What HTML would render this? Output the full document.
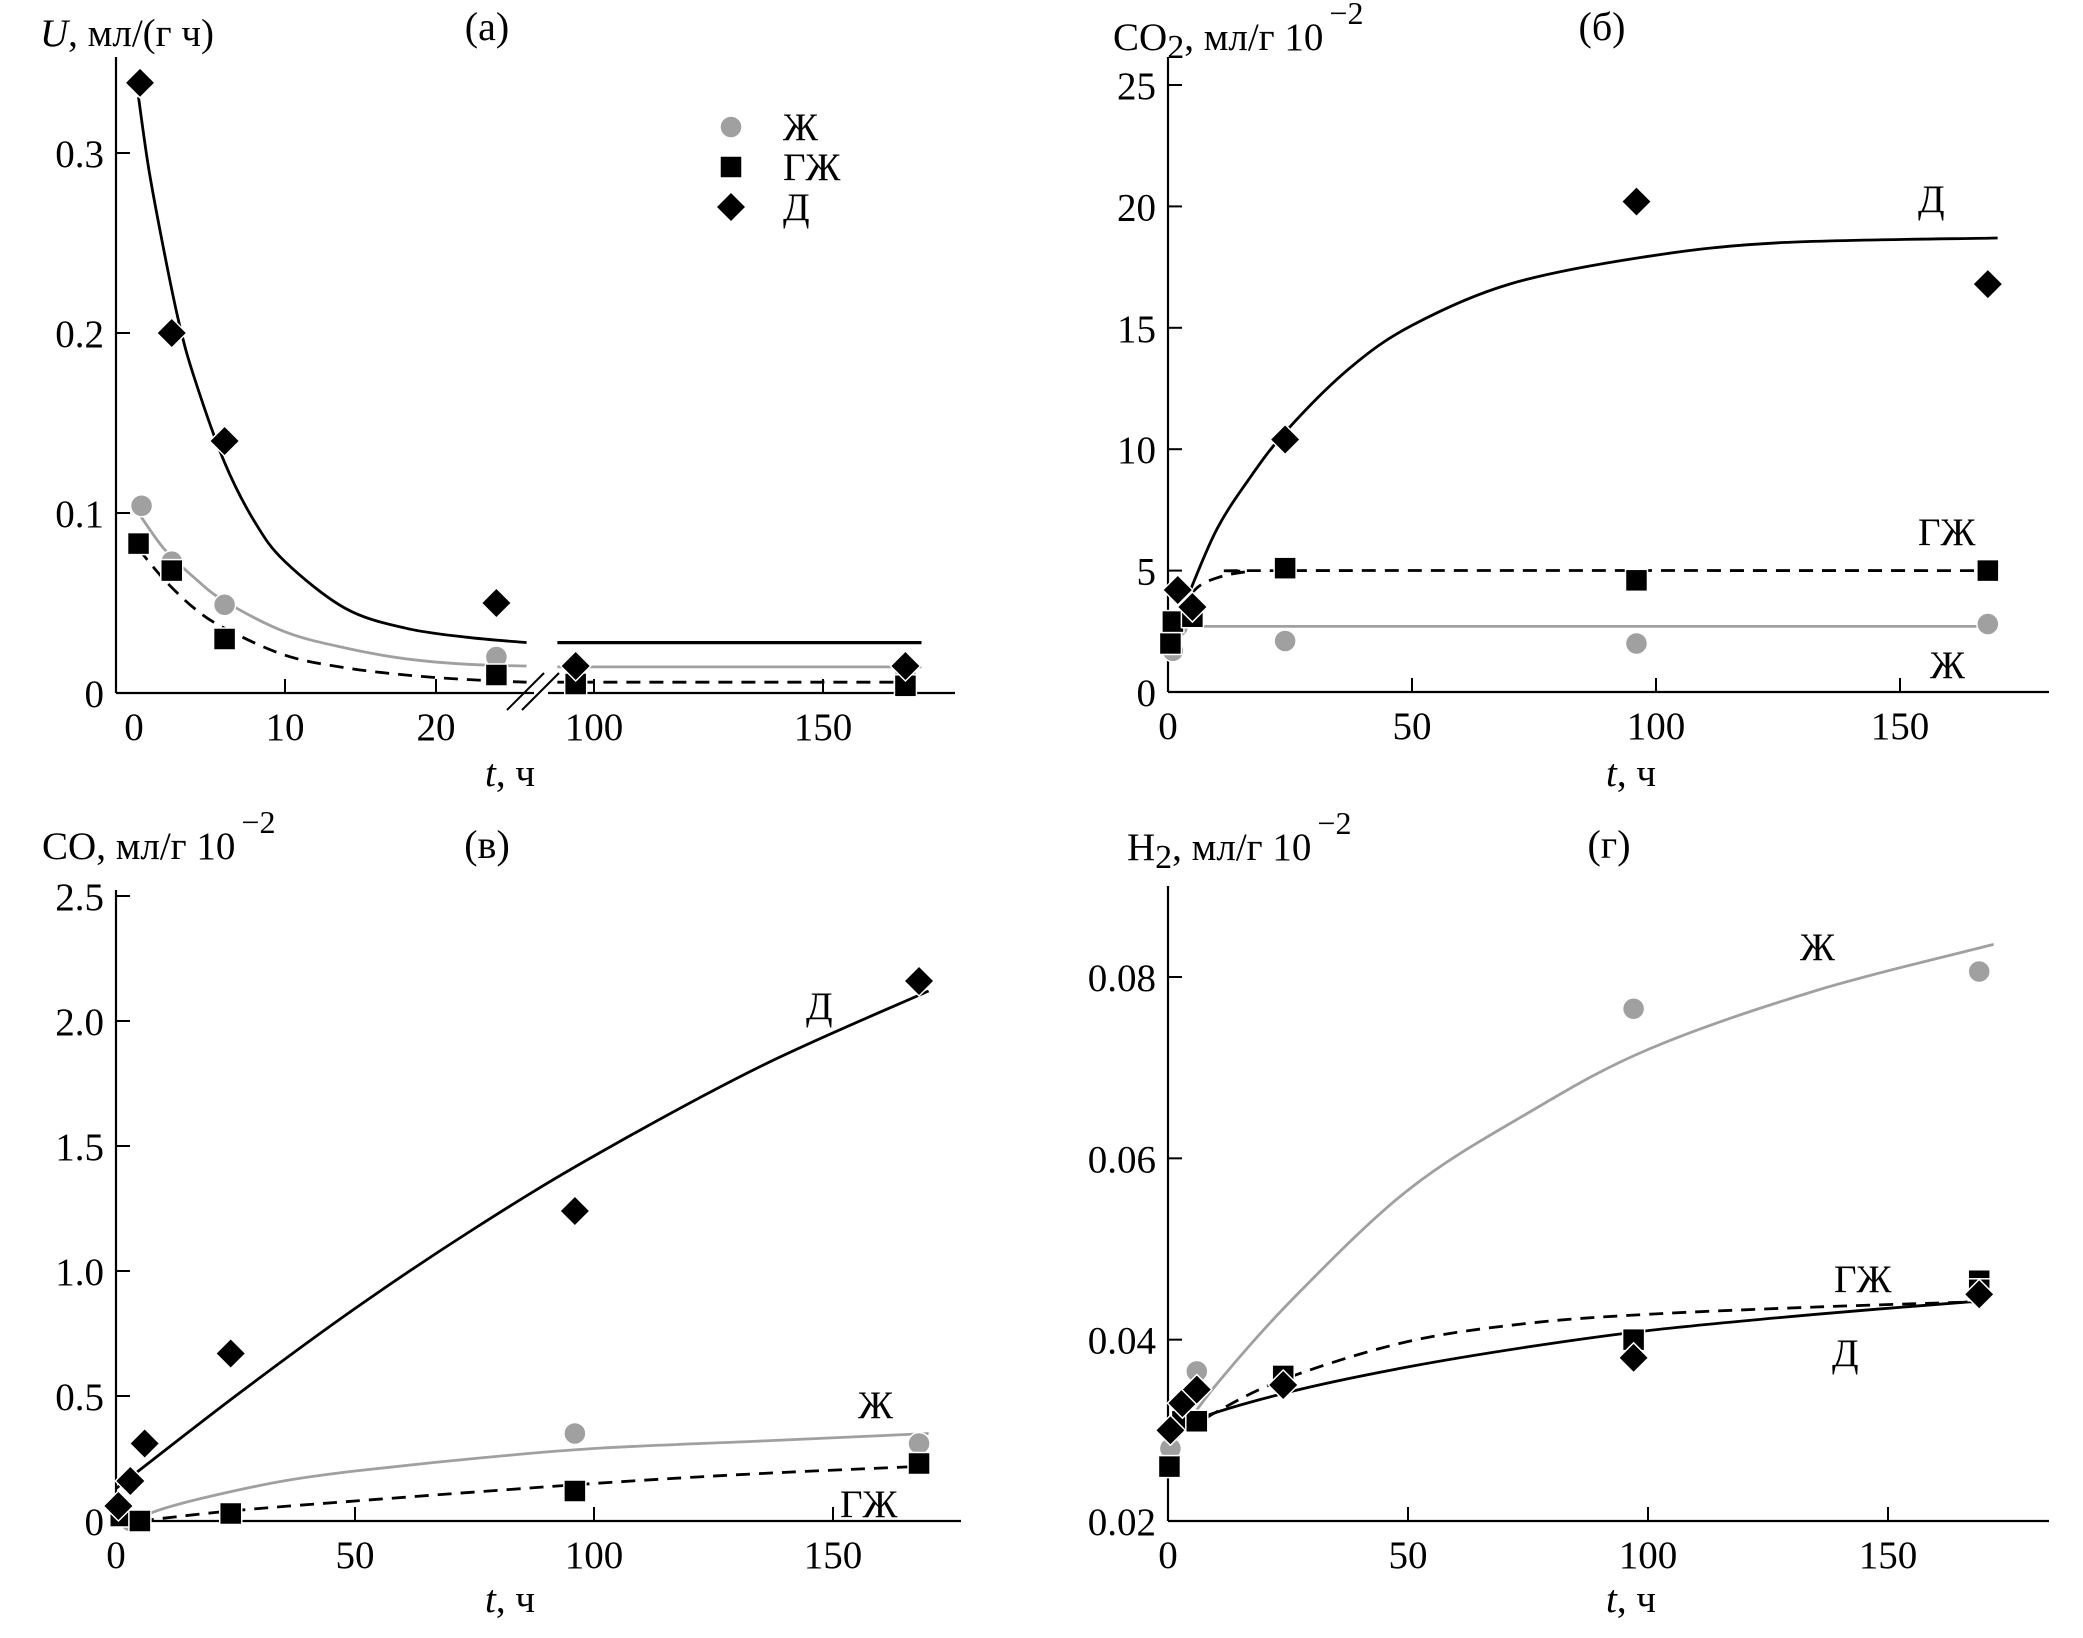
<!DOCTYPE html>
<html><head><meta charset="utf-8">
<style>
html,body{margin:0;padding:0;background:#fff;}
svg{display:block;}
text{font-family:"Liberation Serif","DejaVu Serif",serif;fill:#000;}
</style></head>
<body>
<svg id="chart" width="2083" height="1638" viewBox="0 0 2083 1638" xmlns="http://www.w3.org/2000/svg"></svg>
<script>
// ---------- Panel (а): U ----------
const aTicksY = [0, 0.1, 0.2, 0.3];
const aTickLabelsY = ["0", "0.1", "0.2", "0.3"];
const aTicksXLeft = [0, 10, 20];
const aTicksXRight = [100, 150];
const aZhT = [0.5, 2.5, 6, 24, 96, 168];
const aZhV = [0.104, 0.073, 0.049, 0.02, 0.012, 0.012];
const aGZhT = [0.3, 2.5, 6, 24, 96, 168];
const aGZhV = [0.083, 0.068, 0.03, 0.01, 0.005, 0.004];
const aDT = [0.4, 2.5, 6, 24, 96, 168];
const aDV = [0.339, 0.2, 0.14, 0.05, 0.015, 0.015];
const aDCurveT = [0.3, 1, 2, 3, 4, 6, 8, 10, 14, 18, 22, 26];
const aDCurveV = [0.331, 0.29, 0.245, 0.205, 0.175, 0.128, 0.095, 0.073, 0.047, 0.036, 0.031, 0.028];
const aZhCurveT = [0.3, 2, 4, 6, 10, 14, 18, 22, 26];
const aZhCurveV = [0.1, 0.08, 0.064, 0.051, 0.034, 0.025, 0.019, 0.016, 0.015];
const aGZhCurveT = [0.3, 2, 4, 6, 10, 14, 18, 22, 26];
const aGZhCurveV = [0.08, 0.063, 0.047, 0.036, 0.021, 0.014, 0.01, 0.0075, 0.006];
const aRightT = [92, 171.5];
const aDRightV = 0.028, aZhRightV = 0.0145, aGZhRightV = 0.006;

// ---------- Panel (б): CO2 ----------
const bTicksY = [0, 5, 10, 15, 20, 25];
const bTicksX = [0, 50, 100, 150];
const bDT = [2, 5, 24, 96, 168];
const bDV = [4.2, 3.5, 10.4, 20.2, 16.8];
const bGZhT = [0.5, 1, 5, 24, 96, 168];
const bGZhV = [2.0, 2.9, 3.1, 5.1, 4.6, 5.0];
const bZhT = [1, 2, 24, 96, 168];
const bZhV = [1.7, 2.7, 2.1, 2.0, 2.8];
const bDCurveT = [1.6, 5, 10, 16, 24, 37, 50, 70, 97, 125, 170];
const bDCurveV = [2.6, 4.4, 6.7, 8.6, 10.7, 13.3, 15.1, 16.8, 17.9, 18.5, 18.7];
const bGZhCurveT = [1, 3, 6, 10, 16, 24, 170];
const bGZhCurveV = [2.3, 3.5, 4.3, 4.7, 4.95, 5.0, 5.0];
const bZhCurveT = [0, 170];
const bZhCurveV = [2.7, 2.7];

// ---------- Panel (в): CO ----------
const cTicksY = [0, 0.5, 1.0, 1.5, 2.0, 2.5];
const cTickLabelsY = ["0", "0.5", "1.0", "1.5", "2.0", "2.5"];
const cTicksX = [0, 50, 100, 150];
const cDT = [0.5, 3, 6, 24, 96, 168];
const cDV = [0.06, 0.16, 0.31, 0.67, 1.24, 2.16];
const cZhT = [1, 3, 96, 168];
const cZhV = [0.03, 0.0, 0.35, 0.31];
const cGZhT = [1, 5, 24, 96, 168];
const cGZhV = [0.02, 0.0, 0.03, 0.12, 0.23];
const cDCurveT = [0, 25, 50, 75, 100, 135, 170];
const cDCurveV = [0.13, 0.5, 0.85, 1.17, 1.46, 1.82, 2.12];
const cZhCurveT = [3, 10, 20, 35, 50, 75, 100, 135, 170];
const cZhCurveV = [0.0, 0.05, 0.1, 0.16, 0.2, 0.25, 0.29, 0.32, 0.35];
const cGZhCurveT = [5, 24, 50, 100, 135, 170];
const cGZhCurveV = [0.0, 0.04, 0.08, 0.15, 0.19, 0.22];

// ---------- Panel (г): H2 ----------
const dTicksY = [0.02, 0.04, 0.06, 0.08];
const dTickLabelsY = ["0.02", "0.04", "0.06", "0.08"];
const dTicksX = [0, 50, 100, 150];
const dZhT = [0.5, 6, 97, 169];
const dZhV = [0.028, 0.0365, 0.0765, 0.0806];
const dGZhT = [0.3, 3, 6, 24, 97, 169, 169];
const dGZhV = [0.026, 0.031, 0.031, 0.036, 0.040, 0.0465, 0.0455];
const dDT = [0.5, 3, 6, 24, 97, 169];
const dDV = [0.030, 0.033, 0.0345, 0.035, 0.038, 0.045];
const dZhCurveT = [0, 10, 26, 50, 75, 100, 135, 172];
const dZhCurveV = [0.0278, 0.035, 0.0445, 0.0565, 0.065, 0.072, 0.0785, 0.0836];
const dGZhCurveT = [0, 10, 25, 50, 75, 100, 135, 170];
const dGZhCurveV = [0.0285, 0.032, 0.0358, 0.0398, 0.0418, 0.0428, 0.0436, 0.0442];
const dDCurveT = [0, 5, 25, 50, 75, 100, 135, 170];
const dDCurveV = [0.0285, 0.031, 0.0342, 0.037, 0.0392, 0.041, 0.0428, 0.0443];

const NS = "http://www.w3.org/2000/svg";
const svg = document.getElementById("chart");
const GRAY = "#a0a0a0";
const FS = 39;

function mk(tag, attrs, parent) {
  const e = document.createElementNS(NS, tag);
  for (const k in attrs) e.setAttribute(k, attrs[k]);
  (parent || svg).appendChild(e);
  return e;
}
function txt(s, x, y, size, anchor, parent, name, italic) {
  const t = mk("text", {x: x, y: y, "font-size": size, "text-anchor": anchor || "start"}, parent);
  if (italic) t.setAttribute("font-style", "italic");
  t.textContent = s;
  
  
  return t;
}
function linScale(d0, d1, r0, r1) { return v => r0 + (v - d0) * (r1 - r0) / (d1 - d0); }

function smoothPath(pts) {
  if (pts.length < 2) return "";
  let d = "M" + pts[0][0].toFixed(1) + "," + pts[0][1].toFixed(1);
  if (pts.length === 2) return d + " L" + pts[1][0].toFixed(1) + "," + pts[1][1].toFixed(1);
  for (let i = 0; i < pts.length - 1; i++) {
    const p0 = pts[i - 1] || pts[i], p1 = pts[i], p2 = pts[i + 1], p3 = pts[i + 2] || p2;
    const c1x = p1[0] + (p2[0] - p0[0]) / 6, c1y = p1[1] + (p2[1] - p0[1]) / 6;
    const c2x = p2[0] - (p3[0] - p1[0]) / 6, c2y = p2[1] - (p3[1] - p1[1]) / 6;
    d += " C" + c1x.toFixed(1) + "," + c1y.toFixed(1) + " " + c2x.toFixed(1) + "," + c2y.toFixed(1) + " " + p2[0].toFixed(1) + "," + p2[1].toFixed(1);
  }
  return d;
}
function curve(ts, vs, sx, sy, style, g, name) {
  const pts = ts.map((t, i) => [sx(t), sy(vs[i])]);
  const p = mk("path", {d: smoothPath(pts), fill: "none", stroke: style.color, "stroke-width": style.w || 2.8}, g);
  if (style.dash) p.setAttribute("stroke-dasharray", "14 9");
  
  
  return p;
}
function marker(type, x, y, g, name) {
  let e;
  if (type === "circle") e = mk("circle", {cx: x, cy: y, r: 11, fill: GRAY, stroke: "#fff", "stroke-width": 1.5}, g);
  else if (type === "square") e = mk("rect", {x: x - 11, y: y - 11, width: 22, height: 22, fill: "#000", stroke: "#fff", "stroke-width": 1.5}, g);
  else e = mk("polygon", {points: (x) + "," + (y - 15) + " " + (x + 15) + "," + y + " " + x + "," + (y + 15) + " " + (x - 15) + "," + y, fill: "#000", stroke: "#fff", "stroke-width": 1.5}, g);
  
  
  return e;
}
function points(type, ts, vs, sx, sy, g, name) {
  ts.forEach((t, i) => marker(type, sx(t), sy(vs[i]), g, name));
}
function group(name) {
  const g = mk("g", {});
  
  
  return g;
}
function yAxis(g, x, yTop, yBot, ticks, labels, sy, name) {
  const l = mk("line", {x1: x, y1: yTop, x2: x, y2: yBot, stroke: "#000", "stroke-width": 2.2}, g);
  
  
  ticks.forEach((v, i) => {
    const y = sy(v);
    const tk = mk("line", {x1: x, y1: y, x2: x + 14, y2: y, stroke: "#000", "stroke-width": 2}, g);
    
    
    txt(labels[i], x - 12, y + 14, FS, "end", g, "y-tick-label");
  });
}
function xAxis(g, y, x0, x1, ticks, sx, name, skipTickLine) {
  const l = mk("line", {x1: x0, y1: y, x2: x1, y2: y, stroke: "#000", "stroke-width": 2.2}, g);
  
  
  ticks.forEach(v => {
    const x = sx(v);
    if (!(skipTickLine && v === 0)) {
      const tk = mk("line", {x1: x, y1: y, x2: x, y2: y - 14, stroke: "#000", "stroke-width": 2}, g);
      
      
    }
    txt(String(v), x, y + 47, FS, "middle", g, "x-tick-label");
  });
}
function axisTitle(g, x, y, main, sub, rest, sup, name) {
  const t = mk("text", {x: x, y: y, "font-size": FS}, g);
  
  
  if (main === "U") {
    const a = mk("tspan", {"font-style": "italic"}, t); a.textContent = "U";
    const b = mk("tspan", {}, t); b.textContent = rest;
    return;
  }
  const a = mk("tspan", {}, t); a.textContent = main;
  if (sub) { const s = mk("tspan", {"font-size": 34, dy: 8}, t); s.textContent = sub; const r = mk("tspan", {dy: -8}, t); r.textContent = rest; }
  else { const r = mk("tspan", {}, t); r.textContent = rest; }
  if (sup) { const s = mk("tspan", {"font-size": 32, dy: -26, dx: 6}, t); s.textContent = sup; }
}
function xTitle(g, x, y, name) {
  const t = mk("text", {x: x, y: y, "font-size": FS, "text-anchor": "middle"}, g);
  
  
  const a = mk("tspan", {"font-style": "italic"}, t); a.textContent = "t";
  const b = mk("tspan", {}, t); b.textContent = ", ч";
}

// ===== Panel а =====
(function () {
  const g = group("panel-a");
  const sy = linScale(0, 0.3, 693, 153);
  const sxL = linScale(0, 10, 134, 285);
  const sxR = linScale(100, 150, 594, 823);
  yAxis(g, 116, 57, 693, aTicksY, aTickLabelsY, sy, "y-axis");
  const ax = mk("line", {x1: 116, y1: 693, x2: 955, y2: 693, stroke: "#000", "stroke-width": 2.2}, g);
  
  
  aTicksXLeft.forEach(v => {
    if (v !== 0) { const tk = mk("line", {x1: sxL(v), y1: 693, x2: sxL(v), y2: 679, stroke: "#000", "stroke-width": 2}, g);   }
    txt(String(v), sxL(v), 740, FS, "middle", g, "x-tick-label");
  });
  aTicksXRight.forEach(v => {
    const tk = mk("line", {x1: sxR(v), y1: 693, x2: sxR(v), y2: 679, stroke: "#000", "stroke-width": 2}, g);
    
    
    txt(String(v), sxR(v), 740, FS, "middle", g, "x-tick-label");
  });
  const br = mk("rect", {x: 534, y: 670, width: 14, height: 30, fill: "#fff"}, g);
  
  
  [[507, 710, 544, 673], [522, 710, 559, 673]].forEach(s => {
    const l = mk("line", {x1: s[0], y1: s[1], x2: s[2], y2: s[3], stroke: "#000", "stroke-width": 2}, g);
    
    
  });
  curve(aDCurveT, aDCurveV, sxL, sy, {color: "#000"}, g, "curve-d");
  curve(aZhCurveT, aZhCurveV, sxL, sy, {color: GRAY}, g, "curve-zh");
  curve(aGZhCurveT, aGZhCurveV, sxL, sy, {color: "#000", dash: true}, g, "curve-gzh");
  curve(aRightT, [aDRightV, aDRightV], sxR, sy, {color: "#000", w: 3.2}, g, "curve-d-right");
  curve(aRightT, [aZhRightV, aZhRightV], sxR, sy, {color: GRAY}, g, "curve-zh-right");
  curve(aRightT, [aGZhRightV, aGZhRightV], sxR, sy, {color: "#000", dash: true}, g, "curve-gzh-right");
  const sx = t => t < 50 ? sxL(t) : sxR(t);
  points("circle", aZhT, aZhV, sx, sy, g, "point-zh");
  points("square", aGZhT, aGZhV, sx, sy, g, "point-gzh");
  points("diamond", aDT, aDV, sx, sy, g, "point-d");
  const lg = mk("g", {}, g);
  
  
  marker("circle", 731, 127, lg, "legend-marker-zh");
  txt("Ж", 783, 140, FS, "start", lg, "legend-label-zh");
  marker("square", 731, 167, lg, "legend-marker-gzh");
  txt("ГЖ", 783, 180, FS, "start", lg, "legend-label-gzh");
  marker("diamond", 731, 207, lg, "legend-marker-d");
  txt("Д", 783, 220, FS, "start", lg, "legend-label-d");
  txt("(а)", 487, 40, 40, "middle", g, "panel-title");
  axisTitle(g, 40, 46, "U", null, ", мл/(г ч)", null, "y-axis-title");
  xTitle(g, 510, 786, "x-axis-title");
})();

// ===== Panel б =====
(function () {
  const g = group("panel-b");
  const sy = linScale(0, 25, 692, 85);
  const sx = linScale(0, 50, 1168, 1412);
  yAxis(g, 1168, 57, 692, bTicksY, bTicksY.map(String), sy, "y-axis");
  xAxis(g, 692, 1168, 2049, bTicksX, sx, "x-axis", true);
  curve(bDCurveT, bDCurveV, sx, sy, {color: "#000"}, g, "curve-d");
  curve(bGZhCurveT, bGZhCurveV, sx, sy, {color: "#000", dash: true}, g, "curve-gzh");
  curve(bZhCurveT, bZhCurveV, sx, sy, {color: GRAY}, g, "curve-zh");
  points("circle", bZhT, bZhV, sx, sy, g, "point-zh");
  points("square", bGZhT, bGZhV, sx, sy, g, "point-gzh");
  points("diamond", bDT, bDV, sx, sy, g, "point-d");
  txt("Д", 1918, 212, FS, "start", g, "series-label-d");
  txt("ГЖ", 1918, 545, FS, "start", g, "series-label-gzh");
  txt("Ж", 1930, 678, FS, "start", g, "series-label-zh");
  txt("(б)", 1602, 40, 40, "middle", g, "panel-title");
  axisTitle(g, 1113, 50, "CO", "2", ", мл/г  10", "−2", "y-axis-title");
  xTitle(g, 1631, 786, "x-axis-title");
})();

// ===== Panel в =====
(function () {
  const g = group("panel-c");
  const sy = linScale(0, 0.5, 1521, 1396);
  const sx = linScale(0, 50, 116, 355);
  yAxis(g, 116, 890, 1521, cTicksY, cTickLabelsY, sy, "y-axis");
  xAxis(g, 1521, 116, 961, cTicksX, sx, "x-axis", true);
  curve(cDCurveT, cDCurveV, sx, sy, {color: "#000"}, g, "curve-d");
  curve(cZhCurveT, cZhCurveV, sx, sy, {color: GRAY}, g, "curve-zh");
  curve(cGZhCurveT, cGZhCurveV, sx, sy, {color: "#000", dash: true}, g, "curve-gzh");
  points("circle", cZhT, cZhV, sx, sy, g, "point-zh");
  points("square", cGZhT, cGZhV, sx, sy, g, "point-gzh");
  points("diamond", cDT, cDV, sx, sy, g, "point-d");
  txt("Д", 806, 1019, FS, "start", g, "series-label-d");
  txt("Ж", 858, 1418, FS, "start", g, "series-label-zh");
  txt("ГЖ", 840, 1517, FS, "start", g, "series-label-gzh");
  txt("(в)", 487, 858, 40, "middle", g, "panel-title");
  axisTitle(g, 42, 859, "CO", null, ", мл/г  10", "−2", "y-axis-title");
  xTitle(g, 510, 1612, "x-axis-title");
})();

// ===== Panel г =====
(function () {
  const g = group("panel-d");
  const sy = linScale(0.02, 0.08, 1521, 977);
  const sx = linScale(0, 50, 1168, 1408);
  yAxis(g, 1168, 886, 1521, dTicksY, dTickLabelsY, sy, "y-axis");
  xAxis(g, 1521, 1168, 2049, dTicksX, sx, "x-axis", true);
  curve(dZhCurveT, dZhCurveV, sx, sy, {color: GRAY}, g, "curve-zh");
  curve(dGZhCurveT, dGZhCurveV, sx, sy, {color: "#000", dash: true}, g, "curve-gzh");
  curve(dDCurveT, dDCurveV, sx, sy, {color: "#000"}, g, "curve-d");
  points("circle", dZhT, dZhV, sx, sy, g, "point-zh");
  points("square", dGZhT, dGZhV, sx, sy, g, "point-gzh");
  points("diamond", dDT, dDV, sx, sy, g, "point-d");
  txt("Ж", 1800, 960, FS, "start", g, "series-label-zh");
  txt("ГЖ", 1834, 1292, FS, "start", g, "series-label-gzh");
  txt("Д", 1832, 1366, FS, "start", g, "series-label-d");
  txt("(г)", 1609, 858, 40, "middle", g, "panel-title");
  axisTitle(g, 1127, 860, "H", "2", ", мл/г  10", "−2", "y-axis-title");
  xTitle(g, 1631, 1612, "x-axis-title");
})();
</script>
</body></html>
